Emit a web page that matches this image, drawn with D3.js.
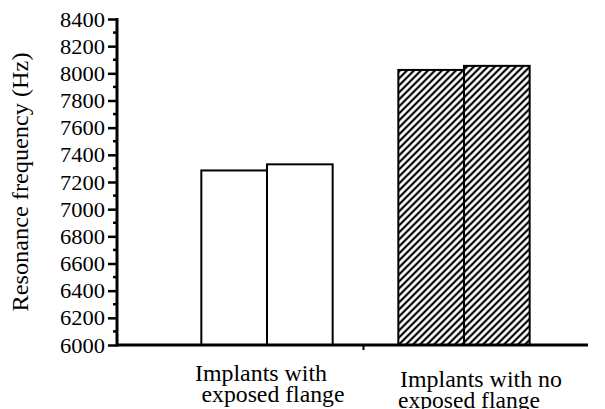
<!DOCTYPE html>
<html>
<head>
<meta charset="utf-8">
<script src="https://cdn.jsdelivr.net/npm/d3@7"></script>
<style>
  body { margin: 0; background: #fff; }
  text { font-family: "Liberation Serif", "Times New Roman", serif; fill: #000; }
</style>
</head>
<body>
<svg width="605" height="409"></svg>
<script>
// data
var categories = ["Implants with\nexposed flange", "Implants with no\nexposed flange"];
var series = ["first", "second"];
var exposedFlange = [7285, 7330];
var noExposedFlange = [8025, 8055];
var yTicks = d3.range(6000, 8401, 200);
var yMinor = d3.range(6100, 8400, 200);

var serif = "'Liberation Serif', 'Times New Roman', serif";

var svg = d3.select("svg");

var y = d3.scaleLinear()
    .domain([6000, 8400])
    .range([345, 19]);

var x0 = d3.scaleBand()
    .domain(categories)
    .range([168.5, 562.5]);

var x1 = d3.scaleBand()
    .domain(series)
    .range([0, x0.bandwidth()])
    .paddingOuter(0.5);

var groups = [
  { cat: categories[0], values: exposedFlange, fill: "#fff" },
  { cat: categories[1], values: noExposedFlange, fill: "url(#hatch)" }
];

// hatch pattern for second group
var pat = svg.append("defs").append("pattern")
    .attr("id", "hatch")
    .attr("patternUnits", "userSpaceOnUse")
    .attr("width", 7)
    .attr("height", 7);
pat.append("path")
    .attr("d", "M-1,1 l2,-2 M0,7 l7,-7 M6,8 l2,-2")
    .attr("stroke", "#000")
    .attr("stroke-width", 2.2);

// bars
var g = svg.selectAll(".grp")
    .data(groups)
    .enter().append("g")
    .attr("class", "grp")
    .attr("transform", d => "translate(" + x0(d.cat) + ",0)");

g.selectAll("rect")
    .data(d => d.values.map((v, i) => ({ s: series[i], v: v, fill: d.fill })))
    .enter().append("rect")
    .attr("x", d => x1(d.s))
    .attr("width", x1.bandwidth())
    .attr("y", d => y(d.v))
    .attr("height", d => y(6000) - y(d.v))
    .attr("fill", d => d.fill)
    .attr("stroke", "#000")
    .attr("stroke-width", 2);

// y axis
var yAxis = svg.append("g")
    .attr("transform", "translate(117,0)")
    .call(d3.axisLeft(y).tickValues(yTicks).tickSize(9).tickPadding(3).tickFormat(d3.format("d")));
yAxis.attr("font-family", null);
yAxis.select(".domain").remove();
yAxis.selectAll(".tick line").attr("stroke-width", 2.5);
yAxis.selectAll(".tick text")
    .style("font-size", "22px")
    .style("font-family", serif)
    .attr("textLength", 45)
    .attr("lengthAdjust", "spacingAndGlyphs");

svg.append("g").selectAll("line")
    .data(yMinor)
    .enter().append("line")
    .attr("x1", 113).attr("x2", 117)
    .attr("y1", d => y(d)).attr("y2", d => y(d))
    .attr("stroke", "#000")
    .attr("stroke-width", 2.5);

svg.append("line")
    .attr("x1", 117).attr("x2", 117)
    .attr("y1", y(8400) - 1).attr("y2", y(6000) + 1.5)
    .attr("stroke", "#000").attr("stroke-width", 3);

// x axis
svg.append("line")
    .attr("x1", 116).attr("x2", 588)
    .attr("y1", y(6000)).attr("y2", y(6000))
    .attr("stroke", "#000").attr("stroke-width", 3);

svg.append("line")
    .attr("x1", x0(categories[1]) - 2).attr("x2", x0(categories[1]) - 2)
    .attr("y1", y(6000)).attr("y2", y(6000) + 5)
    .attr("stroke", "#000").attr("stroke-width", 2);

// category labels
var labelPos = [
  { base: 381, dx: [-6, 6], len: [132, 143] },
  { base: 387, dx: [17, 5], len: [162, 142] }
];
categories.forEach(function(c, i) {
  var cx = x0(c) + x0.bandwidth() / 2;
  c.split("\n").forEach(function(line, j) {
    svg.append("text")
      .attr("x", cx + labelPos[i].dx[j])
      .attr("y", labelPos[i].base + j * 21)
      .attr("text-anchor", "middle")
      .attr("textLength", labelPos[i].len[j])
      .attr("lengthAdjust", "spacingAndGlyphs")
      .style("font-size", "23px")
      .style("font-family", serif)
      .text(line);
  });
});

// y title
svg.append("text")
    .attr("transform", "translate(28,182) rotate(-90)")
    .attr("text-anchor", "middle")
    .attr("textLength", 259)
    .attr("lengthAdjust", "spacingAndGlyphs")
    .style("font-size", "23px")
    .style("font-family", serif)
    .text("Resonance frequency (Hz)");
</script>
</body>
</html>
